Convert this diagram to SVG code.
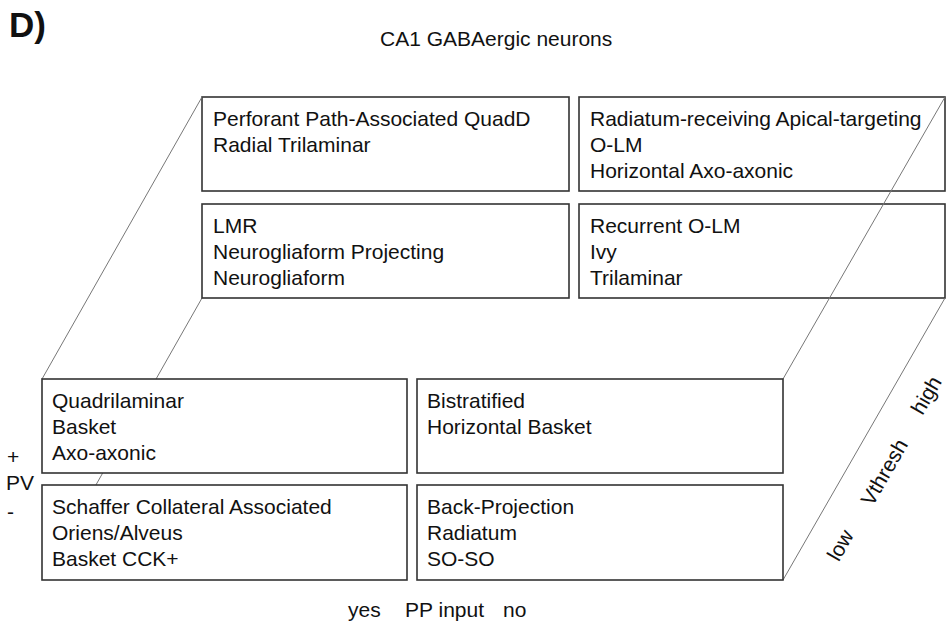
<svg xmlns="http://www.w3.org/2000/svg" width="947" height="629" viewBox="0 0 947 629">
  <style>
    text { font-family: "Liberation Sans", Arial, sans-serif; font-size: 21px; fill: #111; }
    .box { fill: #fff; stroke: #333; stroke-width: 1.6; }
    .edge { fill: none; stroke: #777; stroke-width: 1; }
    .panel { font-size: 35px; font-weight: bold; }
  </style>
  <rect width="947" height="629" fill="#fff"/>

  <text class="panel" x="9" y="37">D)</text>
  <text x="380" y="46">CA1 GABAergic neurons</text>

  <!-- hidden edge of the cube, drawn under the front faces -->
  <g id="edges-back">
    <line class="edge" x1="202" y1="298" x2="42" y2="580"/>
  </g>

  <!-- back face: high Vthresh -->
  <g id="node-back-yes-plus">
    <rect class="box" x="202" y="97" width="367" height="94"/>
    <text x="213" y="126">Perforant Path-Associated QuadD</text>
    <text x="213" y="152">Radial Trilaminar</text>
  </g>
  <g id="node-back-yes-minus">
    <rect class="box" x="202" y="204" width="367" height="94"/>
    <text x="213" y="233">LMR</text>
    <text x="213" y="259">Neurogliaform Projecting</text>
    <text x="213" y="285">Neurogliaform</text>
  </g>
  <g id="node-back-no-plus">
    <rect class="box" x="579" y="97" width="366" height="94"/>
    <text x="590" y="126">Radiatum-receiving Apical-targeting</text>
    <text x="590" y="152">O-LM</text>
    <text x="590" y="178">Horizontal Axo-axonic</text>
  </g>
  <g id="node-back-no-minus">
    <rect class="box" x="579" y="204" width="366" height="94"/>
    <text x="590" y="233">Recurrent O-LM</text>
    <text x="590" y="259">Ivy</text>
    <text x="590" y="285">Trilaminar</text>
  </g>

  <!-- cube edges -->
  <g id="edges">
    <line class="edge" x1="202" y1="97" x2="42" y2="379"/>
    <line class="edge" x1="945" y1="97" x2="783" y2="379"/>
    <line class="edge" x1="945" y1="298" x2="783" y2="580"/>
  </g>

  <!-- front face: low Vthresh -->
  <g id="node-front-yes-plus">
    <rect class="box" x="42" y="379" width="365" height="94"/>
    <text x="52" y="408">Quadrilaminar</text>
    <text x="52" y="434">Basket</text>
    <text x="52" y="460">Axo-axonic</text>
  </g>
  <g id="node-front-yes-minus">
    <rect class="box" x="42" y="485" width="365" height="95"/>
    <text x="52" y="514">Schaffer Collateral Associated</text>
    <text x="52" y="540">Oriens/Alveus</text>
    <text x="52" y="566">Basket CCK+</text>
  </g>
  <g id="node-front-no-plus">
    <rect class="box" x="417" y="379" width="366" height="94"/>
    <text x="427" y="408">Bistratified</text>
    <text x="427" y="434">Horizontal Basket</text>
  </g>
  <g id="node-front-no-minus">
    <rect class="box" x="417" y="485" width="366" height="95"/>
    <text x="427" y="514">Back-Projection</text>
    <text x="427" y="540">Radiatum</text>
    <text x="427" y="566">SO-SO</text>
  </g>

  <!-- axis labels -->
  <g id="axis-pv">
    <text x="7" y="464">+</text>
    <text x="6" y="490">PV</text>
    <text x="7" y="519">-</text>
  </g>
  <g id="axis-pp">
    <text x="348" y="617">yes</text>
    <text x="405" y="617">PP input</text>
    <text x="503" y="617">no</text>
  </g>
  <g id="axis-vthresh" text-anchor="middle">
    <text transform="translate(846.5 548.8) rotate(-60)">low</text>
    <text transform="translate(890.5 475.8) rotate(-60)">Vthresh</text>
    <text transform="translate(932.5 398.8) rotate(-60)">high</text>
  </g>
</svg>
